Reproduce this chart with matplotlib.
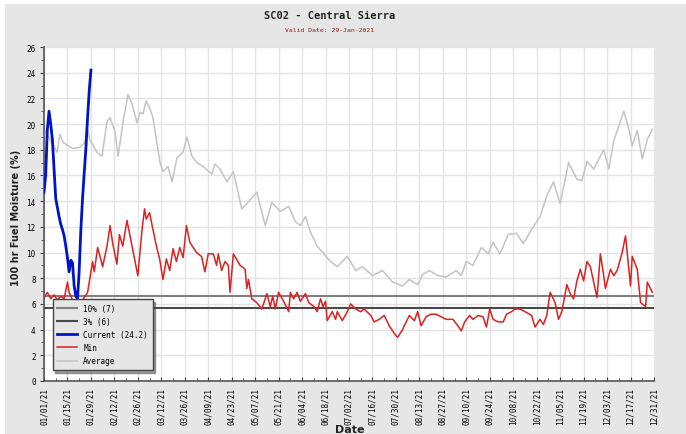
import matplotlib
matplotlib.use("Agg")
import matplotlib.pyplot as plt
from matplotlib.patches import Rectangle

# day of year (0 = 01/01/21) and fuel moisture values
cur_days = list(range(29))
cur_vals = [14.7, 16.0, 19.6, 21.0, 20.0, 18.8, 16.5, 14.2, 13.5, 12.8, 12.2, 11.8,
            11.3, 10.5, 9.6, 8.5, 9.4, 9.2, 7.4, 6.6, 6.4, 8.6, 11.8, 14.2, 16.2,
            18.1, 20.5, 22.6, 24.2]

avg_days = [0, 3.6, 7.8, 9.5, 11.3, 14.3, 17.3, 21.5, 24.5, 25.7, 27.4, 31.6, 34.6,
            37.6, 39.4, 42.4, 44.2, 47.1, 50.1, 52.5, 55.5, 57.3, 59.1, 60.9, 63.2,
            65, 69.2, 71, 74, 76.4, 79.4, 82.9, 85.3, 88.3, 91.3, 94.9, 100.2, 102,
            105, 109.2, 113, 118, 121, 127, 132, 136, 141, 146, 150, 153, 156, 159,
            163, 171, 175, 181, 186, 190, 196, 202, 208, 214, 218, 223, 226, 230,
            235, 240, 246, 249, 252, 256, 261, 265, 268, 272, 277, 282, 286, 291,
            296, 300, 304, 308, 313, 318, 321, 324, 328, 334, 337, 340, 346, 349,
            351, 354, 357, 360, 363]
avg_vals = [19.6, 18.8, 17.8, 19.2, 18.6, 18.3, 18.1, 18.2, 18.6, 19.8, 18.8, 17.8,
            17.5, 20.2, 20.5, 19.4, 17.5, 20.1, 22.3, 21.6, 20.1, 20.9, 20.8, 21.8,
            21.2, 20.5, 17.0, 16.3, 16.7, 15.5, 17.4, 17.8, 19.0, 17.5, 17.0, 16.7,
            16.1, 16.9, 16.5, 15.5, 16.3, 13.4, 13.8, 14.7, 12.1, 13.9, 13.2, 13.6,
            12.4, 12.1, 12.8, 11.6, 10.5, 9.3, 8.9, 9.7, 8.6, 8.9, 8.2, 8.6, 7.7,
            7.4, 7.9, 7.5, 8.3, 8.6, 8.2, 8.1, 8.6, 8.2, 9.3, 9.0, 10.4, 9.9, 10.8,
            9.9, 11.4, 11.5, 10.7, 11.8, 12.8, 14.4, 15.5, 13.8, 17.0, 15.7, 15.6,
            17.1, 16.5, 18.0, 16.5, 18.7, 21.0, 19.6, 18.3, 19.5, 17.3, 18.8, 19.6]

min_days = [0, 2, 4, 6, 8, 10, 12, 14, 15, 17, 20, 23, 26, 29, 30, 32, 35, 37.6,
            39.4, 41, 43.5, 45, 47, 49.5, 52.5, 56, 58.5, 60, 61, 63, 65, 67.4, 69,
            71, 73, 75, 77, 79, 81, 83, 85, 87, 91, 94, 96, 98, 101, 103, 104, 106,
            108, 110, 111, 113, 117, 120, 121, 122, 124, 127, 130, 133, 135, 136.5,
            138, 140, 143, 146, 147, 149, 151, 153, 156, 158, 161, 163, 165, 166.5,
            168, 169, 172, 174, 175, 178, 181, 183, 186, 189, 191, 195, 197, 200,
            203, 206, 209, 211, 214, 215, 218, 221, 223, 225, 228, 231, 234, 237,
            240, 244, 247, 249, 251, 254, 256, 259, 262, 264, 266, 268, 271, 274,
            276, 279, 281, 284, 287, 291, 293, 296, 298, 300, 302, 305, 307, 309,
            312, 314, 316, 318, 320, 322, 324, 326, 328, 330, 332, 334, 335, 338,
            340, 342, 345, 347, 348, 350, 351, 354, 356, 359, 360, 363]
min_vals = [6.5, 6.9, 6.4, 6.7, 6.3, 6.6, 6.4, 7.7, 6.9, 6.3, 6.1, 6.3, 6.9, 9.3,
            8.5, 10.4, 8.9, 10.5, 12.1, 10.7, 9.1, 11.4, 10.5, 12.5, 10.5, 8.2, 11.8,
            13.4, 12.6, 13.1, 11.8, 10.3, 9.5, 7.9, 9.5, 8.6, 10.3, 9.3, 10.4, 9.6,
            12.1, 10.8, 10.0, 9.7, 8.5, 9.9, 9.9, 9.0, 9.9, 8.6, 9.3, 9.0, 6.9, 9.9,
            9.0, 8.7, 7.2, 7.9, 6.4, 6.1, 5.6, 6.8, 5.8, 6.6, 5.6, 6.9, 6.2, 5.4,
            6.9, 6.4, 6.9, 6.2, 6.8, 6.1, 5.8, 5.4, 6.4, 5.8, 6.2, 4.7, 5.4, 4.8,
            5.4, 4.7, 5.4, 6.0, 5.6, 5.4, 5.6, 5.1, 4.6, 4.8, 5.1, 4.3, 3.7, 3.4,
            4.0, 4.3, 5.1, 4.7, 5.4, 4.3, 5.0, 5.2, 5.2, 5.0, 4.8, 4.8, 4.3, 3.9,
            4.6, 5.1, 4.8, 5.1, 5.0, 4.2, 5.6, 4.8, 4.6, 4.6, 5.2, 5.4, 5.6, 5.6,
            5.4, 5.1, 4.2, 4.8, 4.4, 5.1, 6.9, 6.1, 4.8, 5.4, 7.5, 6.8, 6.4, 7.8,
            8.7, 7.8, 9.3, 8.9, 7.7, 6.5, 9.9, 8.2, 7.2, 8.7, 8.2, 8.6, 10.0, 11.3,
            10.0, 7.4, 9.7, 8.7, 6.1, 5.8, 7.7, 6.9]

pct10 = 6.6
pct3 = 5.7

tick_days = list(range(0, 365, 14))
tick_labels = ["01/01/21", "01/15/21", "01/29/21", "02/12/21", "02/26/21", "03/12/21",
               "03/26/21", "04/09/21", "04/23/21", "05/07/21", "05/21/21", "06/04/21",
               "06/18/21", "07/02/21", "07/16/21", "07/30/21", "08/13/21", "08/27/21",
               "09/10/21", "09/24/21", "10/08/21", "10/22/21", "11/05/21", "11/19/21",
               "12/03/21", "12/17/21", "12/31/21"]

mono = "DejaVu Sans Mono"

fig = plt.figure(figsize=(6.86, 4.35), dpi=100, facecolor="white")
fig.patches.append(Rectangle((5 / 686, 0), 1, 430 / 435, transform=fig.transFigure,
                             facecolor="#e6e6e6", edgecolor="none", zorder=-1))
ax = fig.add_axes([44 / 686, 53 / 435, 610 / 686, 334 / 435])
ax.set_facecolor("white")

ax.axhline(pct10, color="#808080", lw=1.5, label="10% (7)", zorder=3)
ax.axhline(pct3, color="#4a4a4a", lw=1.5, label="3% (6)", zorder=3)
ax.plot(avg_days, avg_vals, color="#c4c4c4", lw=1.1, label="Average", zorder=2)
ax.plot(min_days, min_vals, color="#dd2020", lw=1.1, label="Min", zorder=4)
ax.plot(cur_days, cur_vals, color="#0014c4", lw=2.0, label="Current (24.2)", zorder=5)

ax.set_xlim(0, 364)
ax.set_ylim(0, 26)
ax.set_yticks(range(0, 27, 2))
ax.set_yticks(range(1, 26, 2), minor=True)
ax.set_xticks(tick_days)
ax.set_xticks(range(7, 364, 14), minor=True)
ax.set_xticklabels(tick_labels, rotation=90, fontsize=5.5, family=mono)
ax.tick_params(axis="y", labelsize=5.5, direction="out", length=3, color="#444", pad=3)
ax.tick_params(axis="y", which="minor", direction="out", length=2, color="#444")
ax.tick_params(axis="x", direction="in", length=3, color="#444", pad=4)
ax.tick_params(axis="x", which="minor", direction="in", length=2, color="#444")
for lab in ax.get_yticklabels():
    lab.set_family(mono)
ax.grid(True, color="#e4e4e4", lw=1)
ax.set_axisbelow(True)
for s in ["top", "right"]:
    ax.spines[s].set_visible(False)
for s in ["left", "bottom"]:
    ax.spines[s].set_color("#555")
    ax.spines[s].set_linewidth(1.2)

handles, labels = ax.get_legend_handles_labels()
order = ["10% (7)", "3% (6)", "Current (24.2)", "Min", "Average"]
hmap = dict(zip(labels, handles))
leg = ax.legend([hmap[k] for k in order], order, loc="upper left",
                bbox_to_anchor=(0.008, 0.257), fancybox=False, shadow=True,
                framealpha=1, facecolor="#e6e6e6", edgecolor="#444",
                prop={"family": mono, "size": 5.5}, handlelength=2.6,
                labelspacing=0.55, borderpad=0.6)
leg.set_zorder(10)

fig.text(0.48, 419 / 435, "SC02 - Central Sierra", ha="center", va="center",
         family=mono, fontsize=7.5, fontweight="bold", color="#222")
fig.text(0.48, 405 / 435, "Valid Date: 29-Jan-2021", ha="center", va="center",
         family=mono, fontsize=4.6, color="#8b1a1a")
fig.text(16 / 686, 0.5, "100 hr Fuel Moisture (%)", rotation=90, ha="center",
         va="center", fontsize=7, fontweight="bold", color="#222")
fig.text(350 / 686, 10 / 435, "Date", ha="center", va="top",
         fontsize=8, fontweight="bold", color="#222")

fig.savefig("out.png", dpi=100, facecolor=fig.get_facecolor())
